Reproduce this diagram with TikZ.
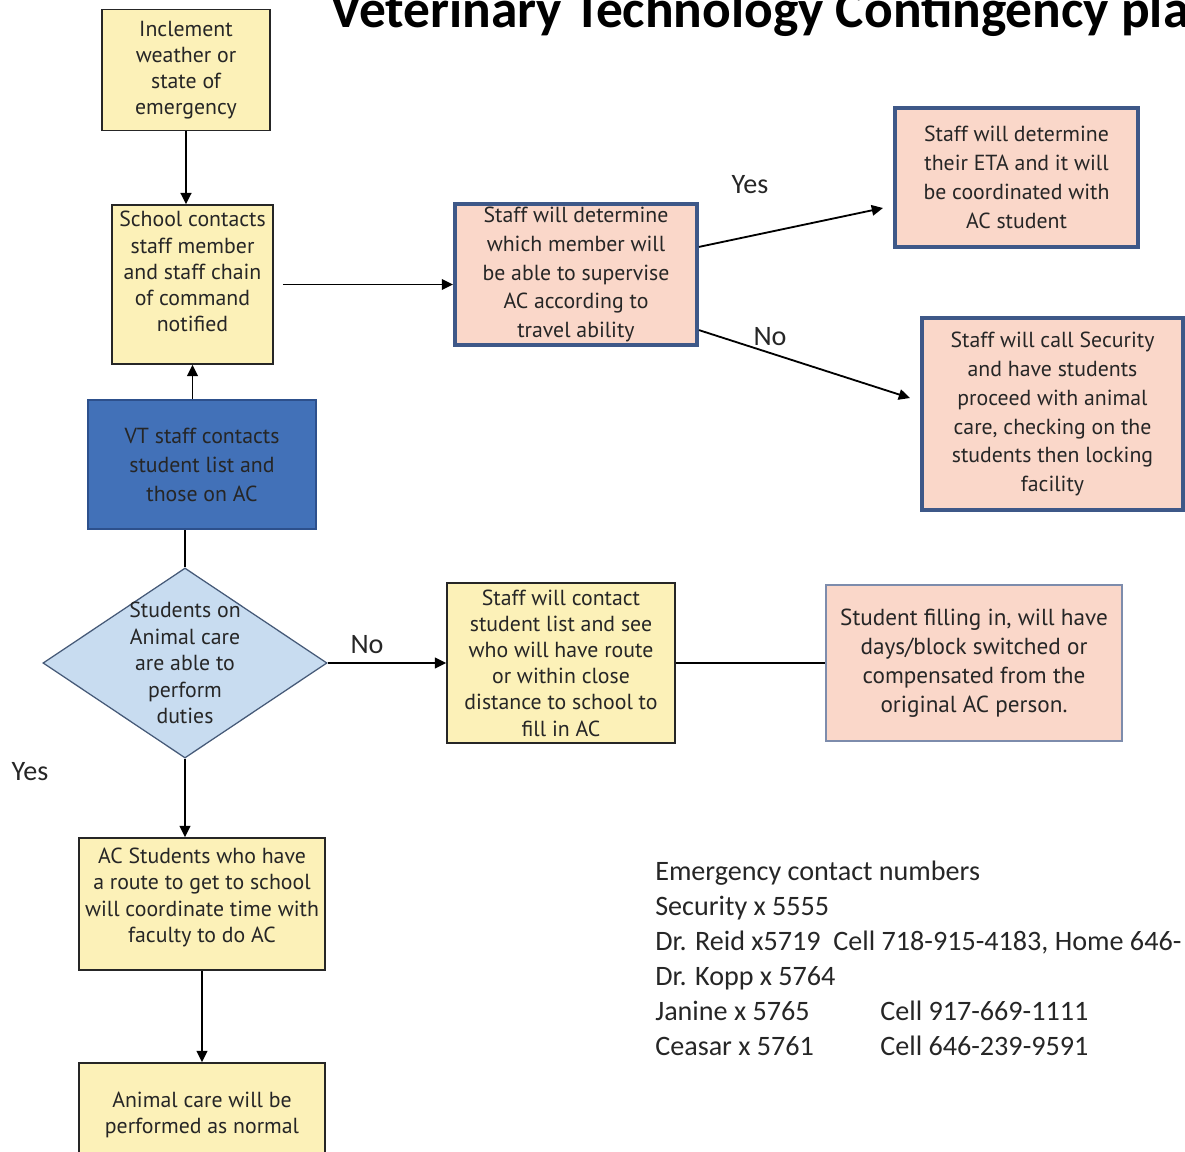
\documentclass[tikz,border=0pt]{standalone}
\usepackage{fontspec}
\setmainfont{PT Sans}
\newfontfamily\calfont{Carlito}
\usetikzlibrary{arrows.meta}
\usetikzlibrary{shapes.geometric}
\definecolor{boxyellow}{RGB}{252,241,184}
\definecolor{boxpink}{RGB}{250,215,201}
\definecolor{boxblue}{RGB}{66,113,184}
\definecolor{bluedge}{RGB}{45,80,140}
\definecolor{pinkedge}{RGB}{62,88,136}
\definecolor{diafill}{RGB}{200,220,240}
\definecolor{diaedge}{RGB}{70,90,120}
\definecolor{thinedge}{RGB}{125,140,172}

\begin{document}
\begin{tikzpicture}[x=0.025cm,y=-0.025cm,
  ybox/.style={draw=black!85,fill=boxyellow,line width=1.1pt,align=center,inner sep=1pt,
    font=\fontsize{15.5}{18.6}\selectfont},
  pbox/.style={draw=pinkedge,fill=boxpink,line width=2.8pt,align=center,inner sep=1pt,
    font=\fontsize{15.5}{20.6}\selectfont},
  arr/.style={line width=1.3pt,-{Triangle[length=8pt,width=7.5pt]}},
  lbl/.style={font=\calfont\fontsize{20}{24}\selectfont}]
\useasboundingbox (0,0) rectangle (1185,1152);
\clip (0,0) rectangle (1185,1152);
\begin{scope}[text=black!85]
% title
\node[anchor=base west,inner sep=0pt,text=black,font=\calfont\bfseries\fontsize{38}{44}\selectfont] (title) at (330,27)
  {Veterinary Technology Contingency plan};
% draws boxes
\node[ybox,minimum width=4.2cm,minimum height=3.025cm] (inclement) at (186,70)
  {Inclement\\weather or\\state of\\emergency};
\node[ybox,minimum width=4.025cm,minimum height=3.975cm] (school) at (192.5,284.5)
  {School contacts\\staff member\\and staff chain\\of command\\notified\\[0pt]};
\node[draw=bluedge,fill=boxblue,line width=2pt,align=center,minimum width=5.7cm,minimum height=3.225cm,
  font=\fontsize{15.5}{20.6}\selectfont] (vtstaff) at (202,464.5)
  {VT staff contacts\\student list and\\those on AC};
\node[diamond,draw=diaedge,fill=diafill,line width=0.9pt,inner sep=0pt,
  minimum width=7.1cm,minimum height=4.75cm] (able) at (185,663) {};
\node[align=center,font=\fontsize{15.5}{18.8}\selectfont] (abletext) at (able) 
  {Students on\\Animal care\\are able to\\perform\\duties};
\node[pbox,minimum width=6.05cm,minimum height=3.525cm] (determine) at (576,274.5)
  {Staff will determine\\which member will\\be able to supervise\\AC according to\\travel ability};
\node[pbox,minimum width=6.075cm,minimum height=3.475cm] (eta) at (1016.5,177.5)
  {Staff will determine\\their ETA and it will\\be coordinated with\\AC student};
\node[pbox,minimum width=6.525cm,minimum height=4.8cm] (security) at (1052.5,414)
  {Staff will call Security\\and have students\\proceed with animal\\care, checking on the\\students then locking\\facility};
\node[ybox,minimum width=5.7cm,minimum height=4cm] (contact) at (561,663)
  {Staff will contact\\student list and see\\who will have route\\or within close\\distance to school to\\fill in AC};
\node[pbox,draw=thinedge,line width=0.9pt,minimum width=7.4cm,minimum height=3.9cm,
  font=\fontsize{16.5}{20.6}\selectfont] (filling) at (974,663)
  {Student filling in, will have\\days/block switched or\\compensated from the\\original AC person.};
\node[ybox,minimum width=6.15cm,minimum height=3.3cm] (route) at (202,904)
  {AC Students who have\\a route to get to school\\will coordinate time with\\faculty to do AC\\[-0.4em]};
\node[ybox,minimum width=6.15cm,minimum height=2.6cm] (normal) at (202,1115)
  {Animal care will be\\performed as normal};
% draws arrows
\coordinate (yesend) at (883,208);
\coordinate (noend) at (910,398);
\draw[arr,line width=1.8pt] (inclement.south) -- (inclement.south |- school.north);
\draw[arr] ([xshift=0.23cm]school.east) -- (school.east -| determine.west);
\draw[arr] (school.south |- vtstaff.north) -- (school.south);
\draw[line width=1pt] (able.north |- vtstaff.south) -- (able.north);
\draw[arr] (able.east) -- (contact.west);
\draw[arr] (able.south) -- (able.south |- route.north);
\draw[line width=2pt] (contact.east) -- (filling.west);
\draw[arr] (route.south) -- (normal.north);
\draw[arr] ([yshift=0.69cm]determine.east) -- (yesend);
\draw[arr] ([yshift=-1.39cm]determine.east) -- (noend);
% labels
\node[lbl] (noa) at (367,645) {No};
\node[lbl] (yesa) at (30,772) {Yes};
\node[lbl] (yesb) at (750,185) {Yes};
\node[lbl] (nob) at (770,337) {No};
\node[anchor=north west,align=left,inner sep=0pt,font=\calfont\fontsize{20}{24.8}\selectfont] (contacts) at (655,861)
  {Emergency contact numbers\\
   Security x 5555\\
   Dr. Reid x5719\ \ Cell 718-915-4183, Home 646-\\
   Dr. Kopp x 5764\\
   \makebox[5.625cm][l]{Janine x 5765}Cell 917-669-1111\\
   \makebox[5.625cm][l]{Ceasar x 5761}Cell 646-239-9591};
\end{scope}
\end{tikzpicture}
\end{document}
